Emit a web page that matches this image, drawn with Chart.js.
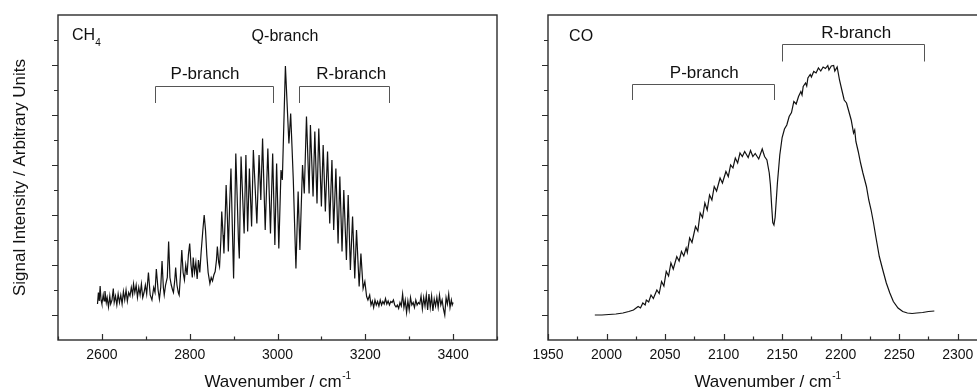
<!DOCTYPE html>
<html>
<head>
<meta charset="utf-8">
<script src="https://cdn.jsdelivr.net/npm/chart.js@4"></script>
<style>
html,body{margin:0;padding:0;background:#fff;overflow:hidden;width:977px;height:392px}
canvas{position:absolute;top:0}
#ch4{left:0}
#co{left:500px}
</style>
</head>
<body>
<canvas id="ch4" width="530" height="392"></canvas>
<canvas id="co" width="520" height="392"></canvas>
<script>

// CH4 spectrum, wavenumber (cm-1) and intensity (arb.)
let ch4Wn=[2590,2592,2594,2596,2598,2600,2603,2605,2607,2610,2612,2615,2618,2620,2623,2626,2628,2631,2634,2637,2640,2643,2646,2649,2652,2655,2658,2661,2664,2667,2670,2672,2675,2678,2681,2684,2687,2690,2693,2696,2699,2702,2706,2710,2714,2718,2721,2724,2728,2731,2734,2737,2740,2742,2745,2749,2752,2755,2758,2761,2763,2766,2768,2771,2774,2776,2779,2782,2785,2788,2791,2794,2797,2800,2803,2806,2808,2811,2814,2817,2820,2823,2826,2830,2833,2836,2839,2842,2846,2849,2852,2855,2858,2861,2863,2866,2868,2871,2873,2876,2878,2881,2883,2886,2888,2891,2894,2897,2900,2903,2905,2908,2911,2913,2915,2917,2920,2924,2928,2932,2936,2941,2945,2953,2958,2962,2966,2972,2978,2984,2989,2994,2998,3003,3008,3011,3018,3026,3030,3033,3036,3039,3042,3047,3051,3057,3061,3066,3072,3075,3081,3085,3090,3094,3100,3104,3109,3114,3119,3124,3128,3133,3138,3142,3147,3151,3157,3161,3166,3171,3176,3180,3186,3190,3195,3199,3203,3206,3210,3213,3216,3219,3222,3225,3228,3231,3234,3237,3240,3243,3246,3249,3252,3255,3258,3261,3264,3267,3270,3273,3276,3279,3282,3285,3288,3291,3294,3297,3300,3303,3306,3309,3312,3315,3318,3321,3324,3327,3330,3333,3336,3339,3342,3345,3348,3351,3354,3357,3360,3363,3366,3369,3372,3375,3378,3381,3384,3387,3390,3393,3396,3398,3400]
let ch4Int=[0.22,0.45,0.28,0.58,0.30,0.22,0.40,0.28,0.48,0.25,0.35,0.16,0.38,0.22,0.30,0.53,0.25,0.38,0.20,0.42,0.25,0.40,0.22,0.47,0.30,0.50,0.28,0.45,0.38,0.55,0.40,0.62,0.45,0.60,0.35,0.55,0.40,0.62,0.35,0.45,0.60,0.42,0.85,0.40,0.30,0.55,0.45,0.92,0.50,0.32,0.55,1.08,0.55,0.40,0.60,0.75,1.47,0.75,0.60,0.50,0.45,0.70,0.95,0.60,0.45,0.40,0.80,1.30,0.85,0.70,1.00,0.80,1.20,1.43,1.00,0.75,1.15,0.85,1.05,0.72,1.10,0.85,1.25,1.70,2.00,1.70,1.20,0.85,0.63,0.75,0.68,0.80,0.87,1.10,1.37,1.05,0.97,1.50,2.07,1.60,1.23,2.00,2.60,1.90,1.27,2.20,2.93,1.80,0.73,2.20,3.23,2.40,1.50,1.13,2.20,3.17,2.50,1.63,3.20,1.67,2.93,1.77,3.30,1.83,3.20,2.30,3.53,1.70,3.33,1.63,3.23,1.40,3.03,1.33,2.90,2.70,4.98,3.43,4.03,3.37,2.70,1.80,0.93,2.47,1.30,3.00,2.43,3.97,2.43,3.80,2.37,3.67,2.23,3.73,2.17,3.40,2.07,3.27,1.83,3.10,1.70,2.93,1.43,2.77,1.27,2.50,1.10,2.40,0.90,1.97,0.73,1.70,0.57,1.23,0.53,0.67,0.37,0.30,0.40,0.20,0.28,0.15,0.30,0.20,0.27,0.18,0.30,0.20,0.27,0.22,0.33,0.22,0.28,0.20,0.27,0.25,0.30,0.20,0.16,0.20,0.13,0.25,0.18,0.42,0.15,0.30,0.05,0.28,0.10,0.35,0.20,0.25,0.15,0.30,0.20,0.25,0.22,0.38,0.12,0.35,0.18,0.40,0.10,0.42,0.15,0.38,0.08,0.32,0.18,0.35,0.15,0.40,0.20,0.30,0.12,0.00,0.35,0.22,0.42,0.15,0.30,0.20,0.25]

// CO spectrum
let coWn=[1990,1996,2002,2008,2014,2019,2023,2027,2029,2031,2033,2034,2036,2038,2040,2043,2045,2047,2049,2051,2053,2055,2057,2060,2062,2064,2066,2068,2069,2071,2073,2076,2078,2080,2082,2084,2086,2088,2090,2092,2094,2097,2099,2102,2104,2106,2108,2110,2112,2114,2116,2118,2121,2123,2125,2127,2130,2133,2135,2137,2139,2140,2141,2142,2143,2144,2145,2146,2148,2150,2152,2154,2156,2158,2160,2162,2164,2166,2167,2168,2170,2171,2172,2174,2175,2177,2179,2181,2183,2185,2187,2189,2190,2192,2194,2195,2197,2199,2201,2203,2205,2207,2209,2211,2212,2213,2215,2217,2219,2222,2224,2226,2228,2230,2233,2236,2239,2242,2245,2249,2253,2257,2261,2265,2270,2275,2280]
let coInt=[0.00,0.00,0.01,0.02,0.04,0.07,0.10,0.17,0.14,0.24,0.20,0.30,0.26,0.40,0.33,0.50,0.43,0.67,0.58,0.87,0.78,1.04,0.92,1.17,1.08,1.27,1.18,1.34,1.25,1.54,1.45,1.77,1.68,2.04,1.95,2.24,2.10,2.40,2.30,2.57,2.48,2.74,2.64,2.87,2.77,3.00,2.94,3.14,3.04,3.24,3.17,3.27,3.15,3.29,3.17,3.23,3.12,3.32,3.17,3.10,2.84,2.60,2.20,1.85,1.80,1.95,2.30,2.65,3.20,3.55,3.72,3.80,3.97,4.05,4.27,4.22,4.37,4.47,4.40,4.57,4.64,4.58,4.74,4.81,4.76,4.87,4.84,4.94,4.88,4.96,4.93,4.99,4.90,4.98,4.99,4.88,4.96,4.70,4.50,4.30,4.24,4.07,3.90,3.64,3.70,3.47,3.27,3.04,2.84,2.57,2.30,2.10,1.85,1.57,1.17,0.90,0.64,0.44,0.27,0.14,0.07,0.04,0.03,0.04,0.05,0.07,0.08]

// tick labels
let ch4Ticks=[2600,2800,3000,3200,3400]
let coTicks=[1950,2000,2050,2100,2150,2200,2250,2300]

// branch labels and brackets
let ch4Notes=[
 {text:'Q-branch',x:3017,y:5.49,size:16},
 {text:'P-branch',x:2835,y:4.73,size:17},
 {text:'R-branch',x:3168,y:4.73,size:17}
]
let ch4Brackets=[[2720,2990,4.58,4.24],[3050,3255,4.58,4.24]]
let coNotes=[
 {text:'P-branch',x:2083.5,y:4.75,size:17},
 {text:'R-branch',x:2213.3,y:5.55,size:17}
]
let coBrackets=[[2022,2143,4.62,4.3],[2150,2271,5.43,5.07]]

const FONT="'Liberation Sans', Arial, sans-serif"

const frame={
 id:'frame',
 afterDraw(chart){
  const {ctx,chartArea:a,scales:{x,y}}=chart
  const o=chart.options.plugins.frame
  ctx.save()
  ctx.strokeStyle='#2b2b2b'
  ctx.lineWidth=1.4
  ctx.strokeRect(a.left,a.top,a.right-a.left,a.bottom-a.top)
  ctx.lineWidth=1.2
  ctx.beginPath()
  for(let v=0;v<=5.5;v+=0.5){
   let py=Math.round(y.getPixelForValue(v))+0.5
   let len=Number.isInteger(v)?6:4
   ctx.moveTo(a.left-len,py);ctx.lineTo(a.left,py)
  }
  let t=o.ticks,step=t[1]-t[0]
  let marks=[]
  t.forEach(v=>marks.push([v,6]))
  for(let v=t[0]-step/2;v<=t[t.length-1]+step;v+=step)marks.push([v,3.5])
  marks.forEach(([v,len])=>{
   if(v<x.min||v>x.max)return
   let px=Math.round(x.getPixelForValue(v))+0.5
   ctx.moveTo(px,a.bottom);ctx.lineTo(px,a.bottom-len)
  })
  ctx.stroke()

  // brackets
  ctx.strokeStyle='#555'
  ctx.lineWidth=1
  ctx.beginPath()
  o.brackets.forEach(([x1,x2,yt,yb])=>{
   let l=Math.round(x.getPixelForValue(x1))+0.5,r=Math.round(x.getPixelForValue(x2))+0.5
   let t1=Math.round(y.getPixelForValue(yt))+0.5,b=y.getPixelForValue(yb)
   ctx.moveTo(l,b);ctx.lineTo(l,t1);ctx.lineTo(r,t1);ctx.lineTo(r,b)
  })
  ctx.stroke()

  ctx.fillStyle='#111'
  ctx.textBaseline='alphabetic'
  ctx.textAlign='center'
  o.notes.forEach(n=>{
   ctx.font=n.size+"px "+FONT
   ctx.fillText(n.text,x.getPixelForValue(n.x),y.getPixelForValue(n.y))
  })

  // molecule label
  ctx.textAlign='left'
  let mx=x.getPixelForValue(o.mol.x),my=y.getPixelForValue(o.mol.y)
  ctx.font="16px "+FONT
  ctx.fillText(o.mol.text,mx,my)
  if(o.mol.sub){
   let w=ctx.measureText(o.mol.text).width
   ctx.font="10px "+FONT
   ctx.fillText(o.mol.sub,mx+w,my+6)
  }

  // x axis title with superscript
  let cx=(a.left+a.right)/2,by=386.5
  ctx.font="17px "+FONT
  let base='Wavenumber / cm',w1=ctx.measureText(base).width
  ctx.font="10px "+FONT
  let w2=ctx.measureText('-1').width
  let x0=cx-(w1+w2)/2
  ctx.font="17px "+FONT
  ctx.fillText(base,x0,by)
  ctx.font="10px "+FONT
  ctx.fillText('-1',x0+w1+0.5,by-8)

  // y axis title
  if(o.yTitle){
   ctx.translate(25,(a.top+a.bottom)/2)
   ctx.rotate(-Math.PI/2)
   ctx.textAlign='center'
   ctx.font="17px "+FONT
   ctx.fillText(o.yTitle,0,0)
  }
  ctx.restore()
 }
}

function makeChart(id,wn,vals,xMin,xMax,ticks,yW,notes,brackets,mol,yTitle){
 return new Chart(document.getElementById(id),{
  type:'line',
  data:{datasets:[{
   data:wn.map((w,i)=>({x:w,y:vals[i]})),
   borderColor:'#111',borderWidth:1.2,pointRadius:0,tension:0
  }]},
  options:{
   responsive:false,animation:false,
   layout:{padding:{top:15,right:33,left:0,bottom:0}},
   plugins:{
    legend:{display:false},tooltip:{enabled:false},
    frame:{ticks:ticks,notes:notes,brackets:brackets,mol:mol,yTitle:yTitle}
   },
   scales:{
    x:{
     type:'linear',min:xMin,max:xMax,
     grid:{display:false,drawTicks:false},border:{display:false},
     afterBuildTicks:s=>{s.ticks=ticks.map(v=>({value:v}))},
     afterFit:s=>{s.height=52},
     ticks:{padding:7,color:'#111',font:{family:FONT,size:14},maxRotation:0,autoSkip:false,callback:v=>String(v)}
    },
    y:{
     min:-0.5,max:6,
     grid:{display:false,drawTicks:false},border:{display:false},
     ticks:{display:false},
     afterFit:s=>{s.width=yW}
    }
   }
  },
  plugins:[frame]
 })
}

makeChart('ch4',ch4Wn,ch4Int,2500,3500,ch4Ticks,58,ch4Notes,ch4Brackets,{text:'CH',sub:'4',x:2532,y:5.51},'Signal Intensity / Arbitrary Units')
makeChart('co',coWn,coInt,1950,2325,coTicks,48,coNotes,coBrackets,{text:'CO',x:1968,y:5.49},null)

</script>
</body>
</html>
